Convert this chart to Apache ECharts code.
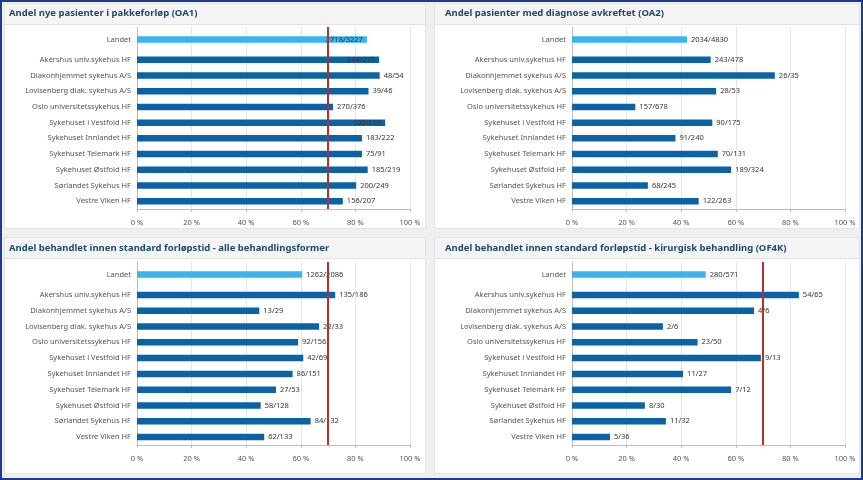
<!DOCTYPE html>
<html><head><meta charset="utf-8">
<script src="https://cdn.jsdelivr.net/npm/echarts@6/dist/echarts.min.js"></script>
<style>
html,body{margin:0;padding:0;background:#ffffff;}
#wrap{position:relative;width:863px;height:480px;overflow:hidden;background:#efefef;}
.panel{position:absolute;background:#ffffff;border:1px solid #e4e4e4;box-sizing:border-box;}
.tbar{position:absolute;left:0;right:0;top:0;height:20px;background:#f4f4f4;border-bottom:1px solid #e2e2e2;}
#frame{position:absolute;left:0;top:0;width:863px;height:480px;box-sizing:border-box;border:2px solid #1e3c86;pointer-events:none;}
#c{position:absolute;left:0;top:0;width:863px;height:480px;}
</style>
</head><body>
<div id="wrap">
  <div class="panel" style="left:4px;top:3px;width:422px;height:226px;"><div class="tbar"></div></div>
  <div class="panel" style="left:434px;top:3px;width:426px;height:226px;"><div class="tbar"></div></div>
  <div class="panel" style="left:4px;top:237px;width:422px;height:237px;"><div class="tbar"></div></div>
  <div class="panel" style="left:434px;top:237px;width:426px;height:237px;"><div class="tbar"></div></div>
  <div id="c"></div>
  <div id="frame"></div>
</div>
<script>
// ---- data ----
const landetName = 'Landet';
const hospitals = [
  'Akershus univ.sykehus HF',
  'Diakonhjemmet sykehus A/S',
  'Lovisenberg diak. sykehus A/S',
  'Oslo universitetssykehus HF',
  'Sykehuset i Vestfold HF',
  'Sykehuset Innlandet HF',
  'Sykehuset Telemark HF',
  'Sykehuset Østfold HF',
  'Sørlandet Sykehus HF',
  'Vestre Viken HF'
];
const xTicks = [0, 20, 40, 60, 80, 100];
const targetLevel = 70;

const oa1Title = 'Andel nye pasienter i pakkeforløp (OA1)';
const oa1Values = [84.2, 88.7, 88.9, 84.8, 71.8, 90.9, 82.4, 82.4, 84.5, 80.3, 75.4];
const oa1Labels = ['2718/3227', '244/275', '48/54', '39/46', '270/376', '100/110', '183/222', '75/91', '185/219', '200/249', '156/207'];

const oa2Title = 'Andel pasienter med diagnose avkreftet (OA2)';
const oa2Values = [42.1, 50.8, 74.3, 52.8, 23.2, 51.4, 37.9, 53.4, 58.3, 27.8, 46.4];
const oa2Labels = ['2034/4830', '243/478', '26/35', '28/53', '157/678', '90/175', '91/240', '70/131', '189/324', '68/245', '122/263'];

const allTitle = 'Andel behandlet innen standard forløpstid - alle behandlingsformer';
const allValues = [60.5, 72.6, 44.8, 66.7, 59.0, 60.9, 57.0, 50.9, 45.3, 63.6, 46.6];
const allLabels = ['1262/2086', '135/186', '13/29', '22/33', '92/156', '42/69', '86/151', '27/53', '58/128', '84/132', '62/133'];

const of4kTitle = 'Andel behandlet innen standard forløpstid - kirurgisk behandling (OF4K)';
const of4kValues = [49.0, 83.1, 66.7, 33.3, 46.0, 69.2, 40.7, 58.3, 26.7, 34.4, 13.9];
const of4kLabels = ['280/571', '54/65', '4/6', '2/6', '23/50', '9/13', '11/27', '7/12', '8/30', '11/32', '5/36'];

// ---- layout / styles ----
const FONT = 'Noto Sans';
const LIGHT = '#38b4f0';
const DARK = '#0b63a6';
const RED = '#b3302d';
const panels = [
  {title: oa1Title, values: oa1Values, labels: oa1Labels, target: true,  tx: 9,   ty: 8,   gx: 137, top: 27,  hA: 25, hB: 157, lm: 10},
  {title: oa2Title, values: oa2Values, labels: oa2Labels, target: false, tx: 445, ty: 8,   gx: 572, top: 27,  hA: 25, hB: 157, lm: 10},
  {title: allTitle, values: allValues, labels: allLabels, target: true,  tx: 9,   ty: 243, gx: 137, top: 262, hA: 25, hB: 158, lm: 10},
  {title: of4kTitle, values: of4kValues, labels: of4kLabels, target: true, tx: 445, ty: 243, gx: 572, top: 262, hA: 25, hB: 158, lm: 10}
];

const titles = [], grids = [], xAxes = [], yAxes = [], series = [];
const splitStyle = {show: true, lineStyle: {color: '#e6e6e6', width: 1}};
const axisLineStyle = {show: true, lineStyle: {color: '#bdbdbd', width: 1}};

function labelPos(v, txt) {
  return (v + txt.length * 1.6 > 98) ? 'insideRight' : 'right';
}

panels.forEach((p, i) => {
  titles.push({
    text: p.title, left: p.tx, top: p.ty, padding: 0,
    textStyle: {fontFamily: FONT, fontSize: 9.5, fontWeight: 'bold', color: '#1c4a6a'}
  });
  const gA = 2 * i, gB = 2 * i + 1;
  grids.push({left: p.gx, width: 273, top: p.top, height: p.hA});
  grids.push({left: p.gx, width: 273, top: p.top + p.hA, height: p.hB});
  [gA, gB].forEach(g => {
    const isB = g === gB;
    xAxes.push({
      type: 'value', gridIndex: g, min: xTicks[0], max: xTicks[xTicks.length - 1], interval: xTicks[1] - xTicks[0],
      axisLine: isB ? axisLineStyle : {show: false},
      axisTick: isB ? {show: true, length: 3, lineStyle: {color: '#bdbdbd'}} : {show: false},
      axisLabel: isB ? {show: true, formatter: '{value} %', fontFamily: FONT, fontSize: 7.5, color: '#555', margin: p.lm} : {show: false},
      splitLine: splitStyle
    });
    yAxes.push({
      type: 'category', gridIndex: g, inverse: true,
      data: isB ? hospitals : [landetName],
      axisLine: axisLineStyle, axisTick: {show: false},
      axisLabel: {fontFamily: FONT, fontSize: 7.5, color: '#555', margin: 6}
    });
  });
  const mk = p.target ? {
    silent: true, symbol: 'none', animation: false,
    label: {show: false},
    lineStyle: {color: RED, width: 2, type: 'solid'},
    data: [{xAxis: targetLevel}]
  } : undefined;
  const mkLabel = (offset) => ({
    show: true, fontFamily: FONT, fontSize: 7.5, color: '#333', distance: 4,
    formatter: prm => p.labels[prm.dataIndex + offset]
  });
  series.push({
    type: 'bar', xAxisIndex: gA, yAxisIndex: gA, barWidth: 6.5,
    itemStyle: {color: LIGHT},
    label: mkLabel(0),
    data: [{value: p.values[0], label: {position: labelPos(p.values[0], p.labels[0])}}],
    markLine: mk, z: 3
  });
  series.push({
    type: 'bar', xAxisIndex: gB, yAxisIndex: gB, barWidth: 6.5,
    itemStyle: {color: DARK},
    label: mkLabel(1),
    data: p.values.slice(1).map((v, k) => ({value: v, label: {position: labelPos(v, p.labels[k + 1])}})),
    markLine: mk, z: 3
  });
});

const chart = echarts.init(document.getElementById('c'), null, {renderer: 'canvas'});
chart.setOption({
  backgroundColor: 'transparent',
  animation: false,
  title: titles, grid: grids, xAxis: xAxes, yAxis: yAxes, series: series
});
</script>
</body></html>
